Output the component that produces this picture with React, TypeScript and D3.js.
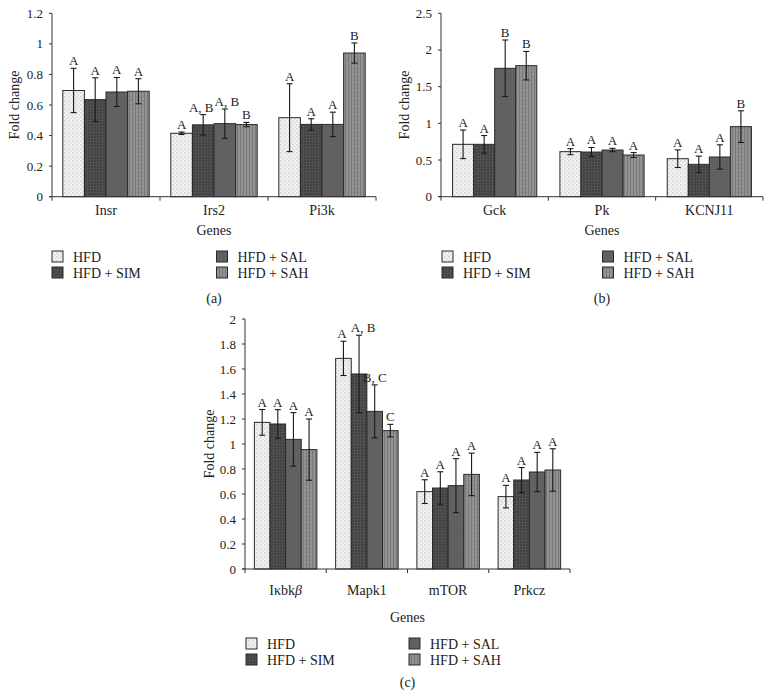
import React from "react";
import * as d3 from "d3";

const groups = ["HFD", "HFD + SIM", "HFD + SAL", "HFD + SAH"];

const genesA = ["Insr", "Irs2", "Pi3k"];
const meanA = [
  [0.695, 0.635, 0.685, 0.69],
  [0.415, 0.47, 0.478, 0.472],
  [0.517, 0.473, 0.473, 0.94],
];
const errA = [
  [0.145, 0.143, 0.095, 0.082],
  [0.008, 0.067, 0.096, 0.014],
  [0.222, 0.037, 0.08, 0.066],
];
const lblA = [
  ["A", "A", "A", "A"],
  ["A", "A, B", "A, B", "B"],
  ["A", "A", "A", "B"],
];
const ticksA = ["0", "0.2", "0.4", "0.6", "0.8", "1", "1.2"];

const genesB = ["Gck", "Pk", "KCNJ11"];
const meanB = [
  [0.714, 0.714, 1.75, 1.786],
  [0.614, 0.609, 0.636, 0.568],
  [0.518, 0.441, 0.541, 0.955],
];
const errB = [
  [0.195, 0.12, 0.386, 0.194],
  [0.041, 0.062, 0.023, 0.034],
  [0.12, 0.112, 0.166, 0.216],
];
const lblB = [
  ["A", "A", "B", "B"],
  ["A", "A", "A", "A"],
  ["A", "A", "A", "B"],
];
const ticksB = ["0", "0.5", "1", "1.5", "2", "2.5"];

const genesC = ["Iκbkβ", "Mapk1", "mTOR", "Prkcz"];
const meanC = [
  [1.173, 1.16, 1.037, 0.955],
  [1.685, 1.56, 1.261, 1.107],
  [0.619, 0.648, 0.667, 0.757],
  [0.579, 0.712, 0.776, 0.792],
];
const errC = [
  [0.103, 0.115, 0.214, 0.245],
  [0.137, 0.31, 0.212, 0.05],
  [0.095, 0.13, 0.216, 0.17],
  [0.09, 0.1, 0.157, 0.17],
];
const lblC = [
  ["A", "A", "A", "A"],
  ["A", "A, B", "B, C", "C"],
  ["A", "A", "A", "A"],
  ["A", "A", "A", "A"],
];
const ticksC = ["0", "0.2", "0.4", "0.6", "0.8", "1", "1.2", "1.4", "1.6", "1.8", "2"];

const FONT = "'Liberation Serif', 'Times New Roman', serif";
const TXT = "#222";
const AX = "#333";
const fills = ["url(#pHFD)", "url(#pSIM)", "url(#pSAL)", "url(#pSAH)"];

type PanelProps = {
  genes: string[];
  means: number[][];
  errs: number[][];
  lbls: string[][];
  ticks: string[];
  x0: number;
  x1: number;
  yBottom: number;
  yTop: number;
  pad: number;
  ylabX: number;
  genesY: number;
  catY: number;
  legX: number;
  legY: number;
  legDx: number;
  tag: string;
  tagY: number;
  shift?: { [k: string]: number };
};

function GeneLabel({ g, x, y }: { g: string; x: number; y: number }) {
  if (g === "Iκbkβ") {
    return (
      <text x={x} y={y} textAnchor="middle" fontSize={14} fontFamily={FONT} fill={TXT}>
        Iκbk<tspan fontStyle="italic">β</tspan>
      </text>
    );
  }
  return (
    <text x={x} y={y} textAnchor="middle" fontSize={14} fontFamily={FONT} fill={TXT}>
      {g}
    </text>
  );
}

function Panel(p: PanelProps) {
  const vmax = +p.ticks[p.ticks.length - 1];
  const y = d3.scaleLinear().domain([0, vmax]).range([p.yBottom, p.yTop]);
  const xc = d3.scaleBand<string>().domain(p.genes).range([p.x0, p.x1]).padding(0);
  const xi = d3
    .scaleBand<string>()
    .domain(groups)
    .range([0, xc.bandwidth()])
    .paddingInner(0)
    .paddingOuter(p.pad);
  const cap = 3;
  const boundaries = [...p.genes.map((g) => xc(g)!), p.x1];
  const midX = (p.x0 + p.x1) / 2;
  return (
    <g>
      {p.genes.map((g, gi) =>
        groups.map((s, si) => {
          const bx = xc(g)! + xi(s)!;
          const bw = xi.bandwidth();
          const v = p.means[gi][si];
          return (
            <rect
              key={g + s}
              x={bx}
              y={y(v)}
              width={bw}
              height={y(0) - y(v)}
              fill={fills[si]}
              stroke="#2a2a2a"
              strokeWidth={1}
            />
          );
        })
      )}
      {p.genes.map((g, gi) =>
        groups.map((s, si) => {
          const cx = xc(g)! + xi(s)! + xi.bandwidth() / 2;
          const v = p.means[gi][si];
          const e = p.errs[gi][si];
          const yt = y(v + e);
          const yb = y(v - e);
          return (
            <g key={"e" + g + s} stroke="#1a1a1a" strokeWidth={1.1}>
              <line x1={cx} x2={cx} y1={yt} y2={yb} />
              <line x1={cx - cap} x2={cx + cap} y1={yt} y2={yt} />
              <line x1={cx - cap} x2={cx + cap} y1={yb} y2={yb} />
            </g>
          );
        })
      )}
      {p.genes.map((g, gi) =>
        groups.map((s, si) => {
          const cx = xc(g)! + xi(s)! + xi.bandwidth() / 2;
          const v = p.means[gi][si];
          const e = p.errs[gi][si];
          const dx = (p.shift && p.shift[gi + "-" + si]) || 0;
          return (
            <text
              key={"l" + g + s}
              x={cx + dx}
              y={y(v + e) - 3}
              textAnchor="middle"
              fontSize={13}
              fontFamily={FONT}
              fill={TXT}
            >
              {p.lbls[gi][si]}
            </text>
          );
        })
      )}
      <line x1={p.x0} x2={p.x0} y1={p.yTop} y2={p.yBottom} stroke={AX} strokeWidth={1} />
      {p.ticks.map((t) => (
        <g key={"t" + t}>
          <line x1={p.x0 - 3} x2={p.x0} y1={y(+t)} y2={y(+t)} stroke={AX} strokeWidth={1} />
          <text
            x={p.x0 - 9}
            y={y(+t) + 4.5}
            textAnchor="end"
            fontSize={13}
            fontFamily={FONT}
            fill={TXT}
          >
            {t}
          </text>
        </g>
      ))}
      <line x1={p.x0 - 3} x2={p.x1} y1={p.yBottom} y2={p.yBottom} stroke={AX} strokeWidth={1} />
      {boundaries.map((bx, i) => (
        <line key={"b" + i} x1={bx} x2={bx} y1={p.yBottom} y2={p.yBottom + 4} stroke={AX} strokeWidth={1} />
      ))}
      {p.genes.map((g) => (
        <GeneLabel key={"g" + g} g={g} x={xc(g)! + xc.bandwidth() / 2} y={p.catY} />
      ))}
      <text
        transform={`translate(${p.ylabX},${(p.yTop + p.yBottom) / 2}) rotate(-90)`}
        textAnchor="middle"
        fontSize={14}
        fontFamily={FONT}
        fill={TXT}
      >
        Fold change
      </text>
      <text x={midX} y={p.genesY} textAnchor="middle" fontSize={14} fontFamily={FONT} fill={TXT}>
        Genes
      </text>
      {groups.map((s, si) => {
        const col = si === 0 || si === 1 ? 0 : 1;
        const row = si === 0 || si === 2 ? 0 : 1;
        const lx = p.legX + col * p.legDx;
        const ly = p.legY + row * 16;
        return (
          <g key={"lg" + s}>
            <rect x={lx} y={ly} width={11} height={11} fill={fills[si]} stroke="#2a2a2a" strokeWidth={1} />
            <text x={lx + 21} y={ly + 10.5} fontSize={14} fontFamily={FONT} fill={TXT}>
              {s}
            </text>
          </g>
        );
      })}
      <text x={midX} y={p.tagY} textAnchor="middle" fontSize={14} fontFamily={FONT} fill={TXT}>
        {p.tag}
      </text>
    </g>
  );
}

export default function App() {
  return (
    <svg
      width={772}
      height={699}
      style={{ position: "absolute", left: 0, top: 0, display: "block", background: "#fff" }}
    >
      <defs>
        <pattern id="pHFD" width={4} height={4} patternUnits="userSpaceOnUse">
          <rect width={4} height={4} fill="#f2f2f2" />
          <rect x={0.5} y={0.5} width={0.8} height={0.8} fill="#7a7a7a" />
          <rect x={2.5} y={2.5} width={0.8} height={0.8} fill="#9a9a9a" />
        </pattern>
        <pattern id="pSIM" width={3} height={3} patternUnits="userSpaceOnUse">
          <rect width={3} height={3} fill="#424242" />
          <rect x={0} y={0} width={3} height={0.6} fill="#575757" />
          <rect x={0} y={0} width={0.6} height={3} fill="#575757" />
        </pattern>
        <pattern id="pSAL" width={3} height={3} patternUnits="userSpaceOnUse">
          <rect width={3} height={3} fill="#636363" />
          <rect x={0.5} y={0.5} width={1} height={1} fill="#4e4e4e" />
        </pattern>
        <pattern id="pSAH" width={3} height={4} patternUnits="userSpaceOnUse">
          <rect width={3} height={4} fill="#949494" />
          <rect x={0} y={0} width={0.8} height={4} fill="#707070" />
          <rect x={0} y={0} width={3} height={0.5} fill="#828282" />
        </pattern>
      </defs>
      <Panel
        genes={genesA}
        means={meanA}
        errs={errA}
        lbls={lblA}
        ticks={ticksA}
        x0={52}
        x1={376}
        yBottom={196.7}
        yTop={13.3}
        pad={0.5}
        ylabX={19}
        genesY={235}
        catY={215}
        legX={52}
        legY={251}
        legDx={164.5}
        tag="(a)"
        tagY={303}
        shift={{ "1-1": -2, "1-2": 2 }}
      />
      <Panel
        genes={genesB}
        means={meanB}
        errs={errB}
        lbls={lblB}
        ticks={ticksB}
        x0={441}
        x1={763}
        yBottom={196.7}
        yTop={13.3}
        pad={0.55}
        ylabX={409}
        genesY={235}
        catY={215}
        legX={442}
        legY={251}
        legDx={160.5}
        tag="(b)"
        tagY={303}
      />
      <Panel
        genes={genesC}
        means={meanC}
        errs={errC}
        lbls={lblC}
        ticks={ticksC}
        x0={245}
        x1={570}
        yBottom={569}
        yTop={319}
        pad={0.6}
        ylabX={214}
        genesY={622}
        catY={595}
        legX={246}
        legY={638}
        legDx={163}
        tag="(c)"
        tagY={687}
        shift={{ "1-0": -1.5, "1-1": 4 }}
      />
    </svg>
  );
}
